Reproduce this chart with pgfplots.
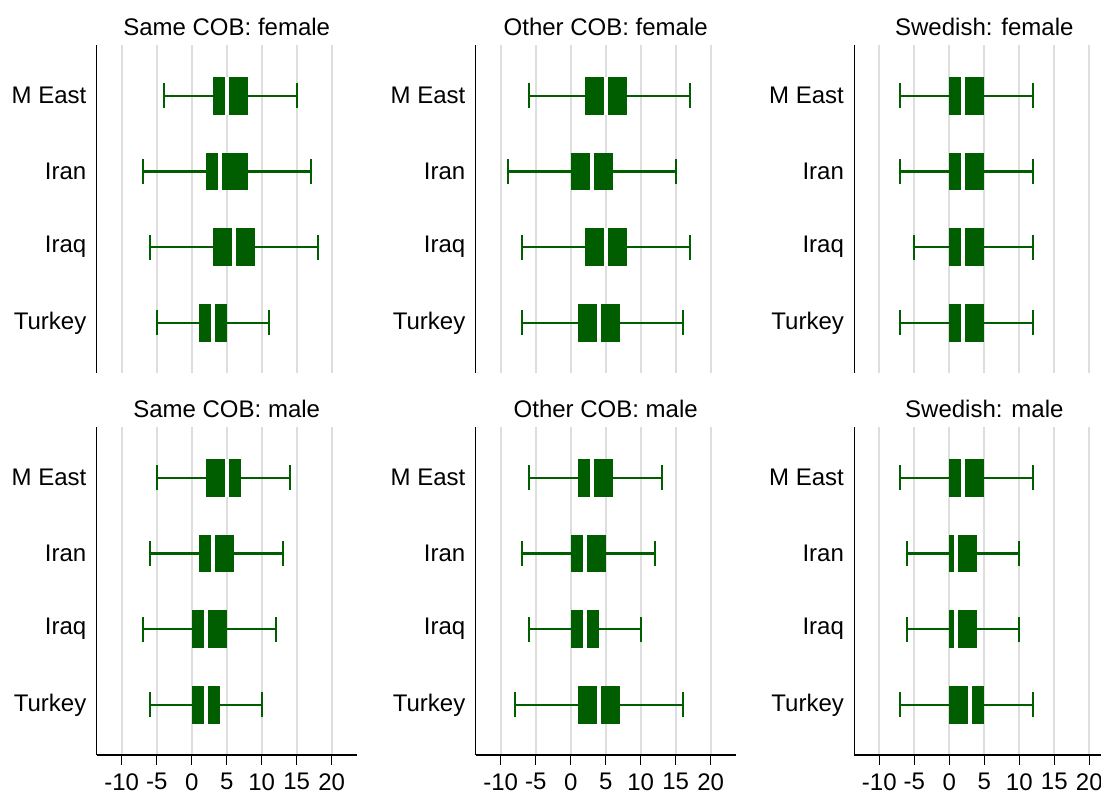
\documentclass[border=0pt]{standalone}
\usepackage{pgfplots}
\pgfplotsset{compat=1.18}
\usepgfplotslibrary{statistics}
\usepackage{fontspec}
\setmainfont{Liberation Sans}
\definecolor{dkg}{RGB}{0,94,0}
\definecolor{gridg}{RGB}{222,222,222}
\newcommand{\fs}{\fontsize{12}{14}\selectfont}
\pgfplotsset{
  boxplot/draw direction=x,
  boxplot/box extend=0.5,
  boxplot/whisker extend=0.33,
  boxplot/every box/.style={draw=none, fill=dkg},
  boxplot/every whisker/.style={draw=dkg, line width=1.1pt},
  boxplot/every median/.style={draw=white, line width=2pt},
  every axis title shift=0pt,
  panel/.style={
    scale only axis, width=130pt, height=164pt,
    anchor=south west,
    xmin=-13.57, xmax=23.57, ymin=0.337, ymax=4.671,
    xtick={-10,-5,0,5,10,15,20},
    xticklabels={-10,-5,0,5,10,15,20},
    ytick={1,2,3,4}, yticklabels={Turkey,Iraq,Iran,M East},
    xmajorgrids, major grid style={draw=gridg, line width=1pt},
    axis y line*=left, axis x line*=bottom,
    axis line style={line width=0.7pt, black},
    ytick style={draw=none},
    yticklabel style={inner sep=0pt, font=\fs},
    yticklabel shift=0pt,
    xticklabel style={inner sep=0pt, font=\fs},
    tick align=outside,
    xtick style={line width=0.7pt, black},
    major tick length=5pt,
    title style={font=\fs, anchor=base, inner sep=0pt, yshift=5pt},
    clip=false,
  },
  toprow/.style={panel, x axis line style={draw=none}, xticklabels={}, xtick style={draw=none}},
  botrow/.style={panel, xticklabel shift=4pt},
}
\newcommand{\bx}[6]{\addplot[boxplot prepared={draw position=#1, lower whisker=#2, lower quartile=#3, median=#4, upper quartile=#5, upper whisker=#6}] coordinates {};}
\begin{document}
\begin{tikzpicture}
% top row
\begin{axis}[toprow, at={(48.35pt,-186.5pt)}, title={Same COB: female}]
\bx{4}{-4}{3}{5}{8}{15}
\bx{3}{-7}{2}{4}{8}{17}
\bx{2}{-6}{3}{6}{9}{18}
\bx{1}{-5}{1}{3}{5}{11}
\end{axis}
\begin{axis}[toprow, at={(237.85pt,-186.5pt)}, title={Other COB: female}]
\bx{4}{-6}{2}{5}{8}{17}
\bx{3}{-9}{0}{3}{6}{15}
\bx{2}{-7}{2}{5}{8}{17}
\bx{1}{-7}{1}{4}{7}{16}
\end{axis}
\begin{axis}[toprow, at={(427.15pt,-186.5pt)}, title={Swedish: female}]
\bx{4}{-7}{0}{2}{5}{12}
\bx{3}{-7}{0}{2}{5}{12}
\bx{2}{-5}{0}{2}{5}{12}
\bx{1}{-7}{0}{2}{5}{12}
\end{axis}
% bottom row
\begin{axis}[botrow, at={(48.35pt,-377.5pt)}, title={Same COB: male}]
\bx{4}{-5}{2}{5}{7}{14}
\bx{3}{-6}{1}{3}{6}{13}
\bx{2}{-7}{0}{2}{5}{12}
\bx{1}{-6}{0}{2}{4}{10}
\end{axis}
\begin{axis}[botrow, at={(237.85pt,-377.5pt)}, title={Other COB: male}]
\bx{4}{-6}{1}{3}{6}{13}
\bx{3}{-7}{0}{2}{5}{12}
\bx{2}{-6}{0}{2}{4}{10}
\bx{1}{-8}{1}{4}{7}{16}
\end{axis}
\begin{axis}[botrow, at={(427.15pt,-377.5pt)}, title={Swedish: male}]
\bx{4}{-7}{0}{2}{5}{12}
\bx{3}{-6}{0}{1}{4}{10}
\bx{2}{-6}{0}{1}{4}{10}
\bx{1}{-7}{0}{3}{5}{12}
\end{axis}
\pgfresetboundingbox
\path[use as bounding box] (0pt,0pt) rectangle (550.5pt,-397pt);
\end{tikzpicture}
\end{document}
